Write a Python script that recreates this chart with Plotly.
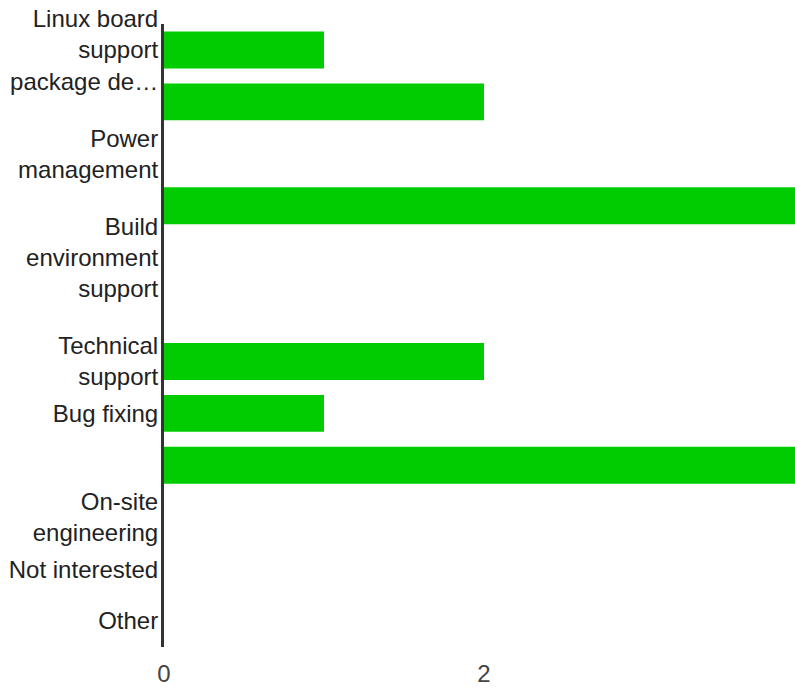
import plotly.graph_objects as go

categories = [
    "Linux board<br>support<br>package de…",
    "",
    "Power<br>management",
    "",
    "Build<br>environment<br>support",
    "",
    "Technical<br>support",
    "Bug fixing",
    "",
    "On-site<br>engineering",
    "Not interested",
    "Other",
]
values = [1, 2, 0, 4, 0, 0, 2, 1, 4, 0, 0, 0]
x_ticks = [0, 2]
x_tick_labels = ["0", "2"]

positions = list(range(len(categories)))

fig = go.Figure(
    go.Bar(
        x=values,
        y=positions,
        orientation="h",
        marker=dict(color="#00cc00", line=dict(width=0)),
        hoverinfo="x",
    )
)

fig.update_layout(
    width=795,
    height=688,
    margin=dict(l=164, r=0, t=24, b=41),
    paper_bgcolor="white",
    plot_bgcolor="white",
    bargap=0.29,
    showlegend=False,
    font=dict(family="Liberation Sans, Arial, sans-serif", size=24, color="#222222"),
)

fig.update_yaxes(
    tickmode="array",
    tickvals=positions,
    ticktext=categories,
    range=[len(categories) - 0.5, -0.5],
    showgrid=False,
    zeroline=False,
    showline=True,
    linecolor="#333333",
    linewidth=3,
    ticks="",
    ticklabelstandoff=-2,
    ticklabeloverflow="allow",
    tickfont=dict(color="#222222", size=24),
)

fig.update_xaxes(
    range=[0, 631 / 160],
    tickmode="array",
    tickvals=x_ticks,
    ticktext=x_tick_labels,
    showgrid=False,
    zeroline=False,
    showline=False,
    ticks="",
    ticklabelstandoff=10,
    ticklabeloverflow="allow",
    tickfont=dict(color="#444444", size=24),
)

fig.write_html(
    "out.html",
    config={"displayModeBar": False},
    post_script="document.body.style.margin='0';document.documentElement.style.overflow='hidden';",
)
